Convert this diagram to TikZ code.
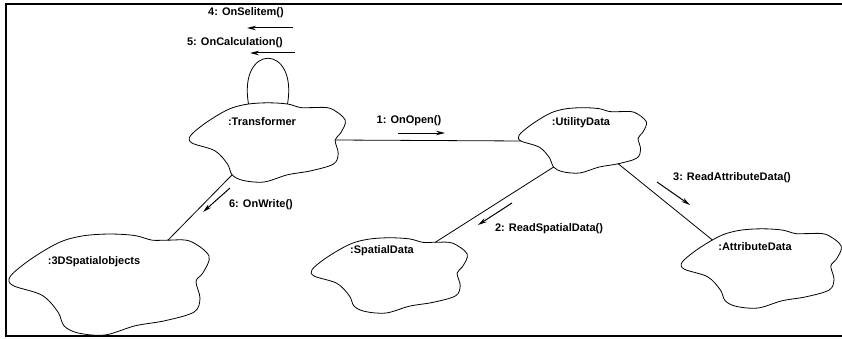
\documentclass[tikz,border=0pt]{standalone}
\usepackage{fontspec}
\setmainfont{Liberation Sans}
\usepackage{tikz}
\usetikzlibrary{arrows.meta}

\tikzset{
    objtext/.style={font=\fontsize{11}{13}\selectfont\bfseries,inner sep=1pt},
    msgtext/.style={font=\fontsize{11}{13}\selectfont\bfseries,inner sep=1pt},
    link/.style={line width=0.8pt},
    msg/.style={line width=1pt,-{Stealth[length=9pt,width=4.5pt]}},
}

% object cloud: name, centre, half width, half height
\newcommand{\objcloud}[4]{
    \begin{scope}[shift={#2},xscale=#3,yscale=#4]
    \draw[line width=0.8pt] plot[smooth cycle,tension=0.55] coordinates {
        (-0.97,-0.03) (-1.0,0.14) (-0.84,0.42) (-0.62,0.70) (-0.45,0.86)
        (-0.25,0.95) (0.0,0.98) (0.25,0.95) (0.42,0.86) (0.58,0.86)
        (0.80,0.84) (0.99,0.55) (0.93,0.22) (0.86,0.05) (0.90,-0.28)
        (0.84,-0.55) (0.55,-0.72) (0.25,-0.82) (-0.05,-1.0) (-0.32,-0.96)
        (-0.46,-0.82) (-0.52,-0.55) (-0.68,-0.22)};
    \coordinate (#1-w) at (-0.97,-0.03);
    \coordinate (#1-nw) at (-0.62,0.70);
    \coordinate (#1-la) at (-0.25,0.95);
    \coordinate (#1-lb) at (0.25,0.95);
    \coordinate (#1-ne) at (0.58,0.86);
    \coordinate (#1-e) at (0.86,0.05);
    \coordinate (#1-se) at (0.55,-0.72);
    \coordinate (#1-sw) at (-0.46,-0.82);
    \end{scope}
}

\begin{document}
\begin{tikzpicture}[x=1pt,y=1pt]
    \useasboundingbox (0,0) rectangle (842,338);
    % frame
    \draw[line width=2pt] (842,333.5) -- (6,333.5) -- (6,2.5) -- (842,2.5);

    % objects
    \objcloud{tr}{(268,196)}{78}{40}
    \objcloud{ut}{(583,198)}{64}{33}
    \objcloud{sp}{(390,63)}{78}{38}
    \objcloud{ob}{(110,54)}{100}{51}
    \objcloud{at}{(762,70)}{80}{40}
    \node[objtext] (tr-name) at (262,216) {:Transformer};
    \node[objtext] (ut-name) at (581,215) {:UtilityData};
    \node[objtext] (sp-name) at (382,87) {:SpatialData};
    \node[objtext] (ob-name) at (94,76) {:3DSpatialobjects};
    \node[objtext] (at-name) at (755,91) {:AttributeData};

    % links
    \draw[link] (tr-e) -- (ut-w);
    \draw[link] (ut-sw) -- (sp-ne);
    \draw[link] (ut-se) -- (at-nw);
    \draw[link] (tr-sw) -- (ob-ne);
    \draw[link] (tr-la) .. controls (238,295) and (298,295) .. (tr-lb);

    % messages
    \node[msgtext] (m1) at (409,217) {1: OnOpen()};
    \node[msgtext] (m2) at (549,109) {2: ReadSpatialData()};
    \node[msgtext] (m3) at (732,160) {3: ReadAttributeData()};
    \node[msgtext] (m4) at (246,325) {4: OnSelitem()};
    \node[msgtext] (m5) at (235,295) {5: OnCalculation()};
    \node[msgtext] (m6) at (261,133) {6: OnWrite()};
    \coordinate (a1) at (398,205); \coordinate (b1) at (445,205);
    \coordinate (a2) at (512,135); \coordinate (b2) at (478,113);
    \coordinate (a3) at (657,156); \coordinate (b3) at (690,133);
    \coordinate (a4) at (293,310); \coordinate (b4) at (247,310);
    \coordinate (a5) at (295,285); \coordinate (b5) at (250,285);
    \coordinate (a6) at (230,150); \coordinate (b6) at (203,126);
    \draw[msg] (a1) -- (b1);
    \draw[msg] (a2) -- (b2);
    \draw[msg] (a3) -- (b3);
    \draw[msg] (a4) -- (b4);
    \draw[msg] (a5) -- (b5);
    \draw[msg] (a6) -- (b6);
\end{tikzpicture}
\end{document}
